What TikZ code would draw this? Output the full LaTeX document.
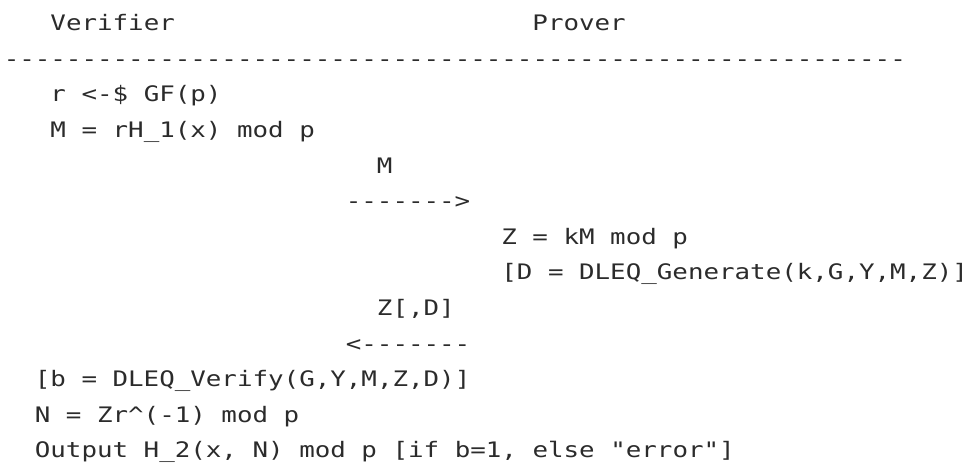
\documentclass[tikz,border=0pt]{standalone}
\usepackage{fontspec}
\newfontfamily\asciifont[FakeStretch=1.211,Ligatures=TeXOff]{DejaVu Sans Mono}
\definecolor{Ink}{HTML}{2B2B2B}
\newcommand{\us}{\char"5F\relax}
\tikzset{
  ascii/.style={
    anchor=base west, inner sep=0pt, text=Ink,
    font=\asciifont\fontsize{16}{19}\selectfont
  }
}

\begin{document}
\begin{tikzpicture}[x=0.75pt,y=-0.75pt]
  \useasboundingbox (0,0) rectangle (968,465);
  % parties
  \node[ascii] (verifier) at (50.2,30.7) {Verifier};
  \node[ascii] (prover) at (532.2,30.7) {Prover};
  \node[ascii] (rule) at (3.5,66.3)
    {----------------------------------------------------------};
  % verifier blinds
  \node[ascii] (draw) at (50.2,101.9) {r <-\$ GF(p)};
  \node[ascii] (blind) at (50.2,137.5) {M = rH\us1(x) mod p};
  \node[ascii] (mlabel) at (376.7,173.1) {M};
  \node[ascii] (marrow) at (345.6,208.7) {------->};
  % prover evaluates
  \node[ascii] (evalz) at (501.1,244.3) {Z = kM mod p};
  \node[ascii] (dleqgen) at (501.1,279.9) {[D = DLEQ\us Generate(k,G,Y,M,Z)]};
  \node[ascii] (zlabel) at (376.7,315.5) {Z[,D]};
  \node[ascii] (zarrow) at (345.6,351.1) {<-------};
  % verifier unblinds
  \node[ascii] (dleqver) at (34.6,386.7) {[b = DLEQ\us Verify(G,Y,M,Z,D)]};
  \node[ascii] (unblind) at (34.6,422.3) {N = Zr\textasciicircum(-1) mod p};
  \node[ascii] (output) at (34.6,457.9)
    {Output H\us2(x, N) mod p [if b=1, else "error"]};
\end{tikzpicture}
\end{document}
